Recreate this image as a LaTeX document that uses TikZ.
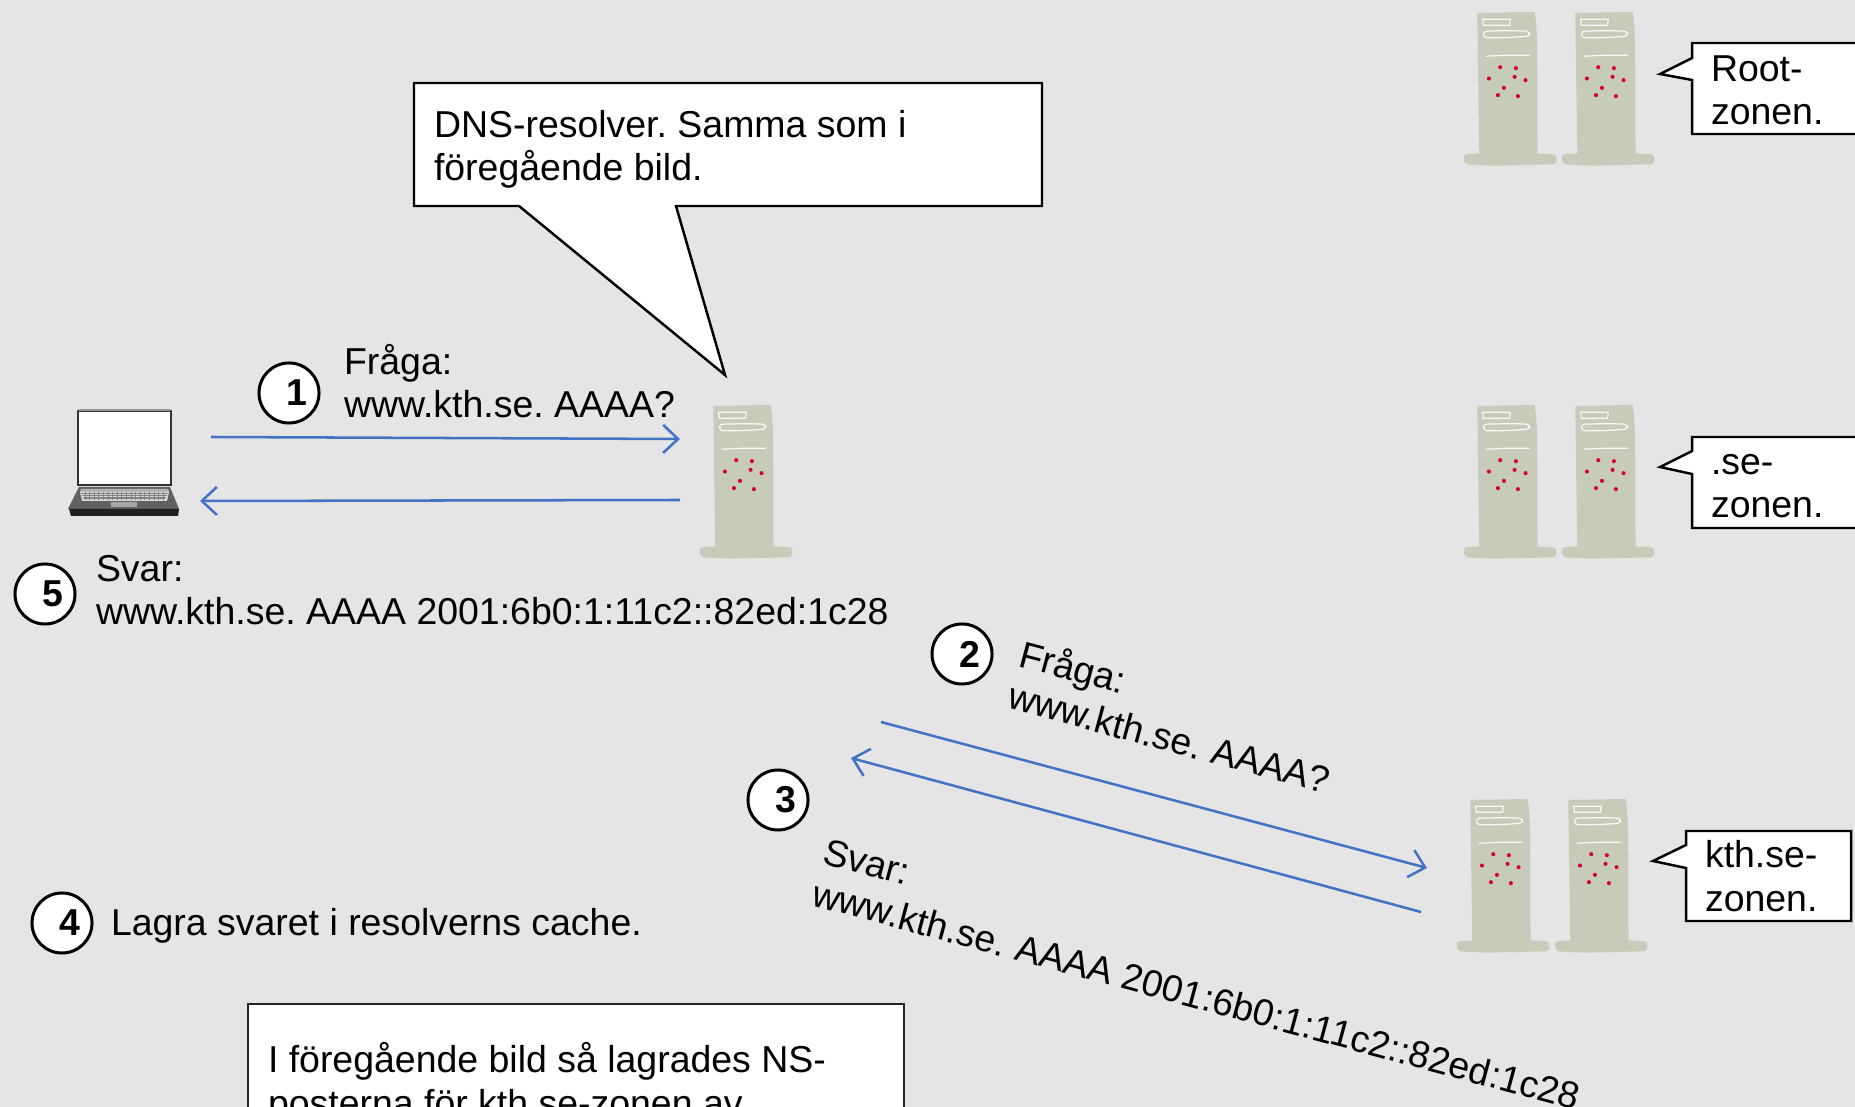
\documentclass[tikz,border=0pt]{standalone}
\usepackage{fontspec}
\setmainfont{Liberation Sans}
\usetikzlibrary{arrows.meta}
\definecolor{bgc}{HTML}{E5E5E5}
\definecolor{srv}{HTML}{C7CBBA}
\definecolor{dots}{HTML}{D5003C}
\definecolor{flow}{HTML}{4472C4}
\frenchspacing
\tikzset{
  lbl/.style={anchor=base west,inner sep=0pt,outer sep=0pt,align=left,text=black,font=\fontsize{10.65}{12.35}\selectfont},
  num/.style={circle,draw=black,fill=white,line width=0.85pt,minimum size=0.6cm,inner sep=0pt,font=\fontsize{10.65}{12.35}\selectfont\bfseries},
  callout/.style={draw=black,fill=white,line width=0.7pt,line join=miter},
  flowline/.style={draw=flow,line width=0.72pt,-{Straight Barb[length=1.5mm,width=2.8mm,line width=0.72pt]}},
  srvlines/.style={draw=white!88!srv,line width=0.35pt,line join=round}
}
\newcommand{\dig}[1]{\hspace*{0.16cm}\raisebox{-0.03cm}{#1}}
% #1 = x origin, #2 = y origin (px)
\newcommand{\towerat}[2]{%
 \begin{scope}[shift={(#1,#2)},x=0.00333cm,y=-0.00333cm]
  \fill[srv] (100,78) -- (272,75) .. controls (277,100) and (279,130) .. (280,200) -- (281,500) -- (330,503) .. controls (338,505) and (339,520) .. (337,525) .. controls (335,532) and (330,533) .. (320,533) -- (150,537) -- (70,533) .. controls (62,531) and (60,525) .. (60,512) .. controls (60,505) and (62,503) .. (70,502) -- (106,500) -- (103,300) -- cycle;
  \draw[srvlines] (116,97) -- (199,97) -- (197,115) -- (118,115) -- cycle;
  \draw[srvlines,rounded corners=1pt] (117,133) -- (200,131) -- (257,133) -- (257,148) -- (190,152) -- (120,153) -- cycle;
  \draw[srvlines] (126,208) -- (190,205) -- (257,205);
  \foreach \p/\q in {169/241,216/244,135/275,212/270,245/280,180/303,162/325,222/328}
    \fill[dots] (\p,\q) circle (6.2);
 \end{scope}}
\begin{document}
\begin{tikzpicture}[x=0.01cm,y=-0.01cm]
\useasboundingbox (0,0) rectangle (1855,1107);
\clip (0,0) rectangle (1855,1107);
\fill[bgc] (0,0) rectangle (1855,1107);

% towers
\towerat{680}{380}
\towerat{1444}{-13}\towerat{1542}{-13}
\towerat{1444}{380}\towerat{1542}{380}
\towerat{1437}{774}\towerat{1535}{774}

% laptop
\draw[black!80,fill=white,line width=0.8pt] (78,411) rectangle (171,485);
\draw[black!40,line width=0.5pt] (78,410) -- (171,410);
\fill[black!62] (79,487) -- (170,487) -- (179,509) -- (68,509) -- cycle;
\fill[black!30] (81,489) -- (168,489) -- (169,492) -- (80,492) -- cycle;
\fill[black!15] (80,492) -- (169,492) -- (167,501) -- (82,501) -- cycle;
\foreach \i in {0,1,2,3} \draw[black!50,line width=0.2pt] (81+\i,{493.6+1.7*\i}) -- (168-\i,{493.6+1.7*\i});
\foreach \i in {0,...,17} \draw[black!50,line width=0.2pt] (85+\i*4.6,492.5) -- (85+\i*4.6,500);
\fill[black!35] (111,502) rectangle (137,507);
\fill[black!88] (69,509) -- (179,509) -- (178,516) -- (71,516) -- cycle;

% callouts
\draw[callout] (414,83) -- (1042,83) -- (1042,206) -- (676,206) -- (725,375) -- (519,206) -- (414,206) -- cycle;
\node[lbl] (cdns) at (434,181) {DNS-resolver. Samma som i\\föregående bild.};
\draw[callout] (1692,43) -- (1870,43) -- (1870,134) -- (1692,134) -- (1692,80) -- (1660,74) -- (1692,58) -- cycle;
\node[lbl] (croot) at (1711,125) {Root-\\zonen.};
\draw[callout] (1692,437) -- (1870,437) -- (1870,528) -- (1692,528) -- (1692,474) -- (1660,467) -- (1692,451) -- cycle;
\node[lbl] (cse) at (1711,518) {.se-\\zonen.};
\draw[callout] (1686,831) -- (1851,831) -- (1851,921) -- (1686,921) -- (1686,868) -- (1653,861) -- (1686,845) -- cycle;
\node[lbl] (ckth) at (1705,911) {kth.se-\\zonen.};
\draw[draw=black!85,fill=white,line width=0.5pt] (248,1004) rectangle (904,1130);
\node[lbl] (cnote) at (268,1116) {I föregående bild så lagrades NS-\\posterna för kth.se-zonen av};

% flows
\coordinate (a1) at (211,437); \coordinate (b1) at (680,439);
\coordinate (a2) at (680,500); \coordinate (b2) at (200,501);
\coordinate (a3) at (881,722); \coordinate (b3) at (1427,868);
\coordinate (a4) at (1421,912); \coordinate (b4) at (851,758);
\draw[flowline] (a1) -- (b1);
\draw[flowline] (a2) -- (b2);
\draw[flowline] (a3) -- (b3);
\draw[flowline] (a4) -- (b4);

% numbers
\node[num] (n1) at (289,393) {\dig{1}};
\node[num] (n5) at (45,594) {\dig{5}};
\node[num] (n2) at (962,654) {\dig{2}};
\node[num] (n3) at (778,800) {\dig{3}};
\node[num] (n4) at (62,923) {\dig{4}};

% labels
\node[lbl] (t1) at (344,418) {Fråga:\\www.kth.se. AAAA?};
\node[lbl] (t5) at (96,625) {Svar:\\www.kth.se. AAAA 2001:6b0:1:11c2::82ed:1c28};
\node[lbl] (t4) at (111,935) {Lagra svaret i resolverns cache.};
\node[lbl,rotate=-15] (t2) at (1006,708) {Fråga:\\www.kth.se. AAAA?};
\node[lbl,rotate=-15] (t3) at (810,905) {Svar:\\www.kth.se. AAAA 2001:6b0:1:11c2::82ed:1c28};
\end{tikzpicture}
\end{document}
